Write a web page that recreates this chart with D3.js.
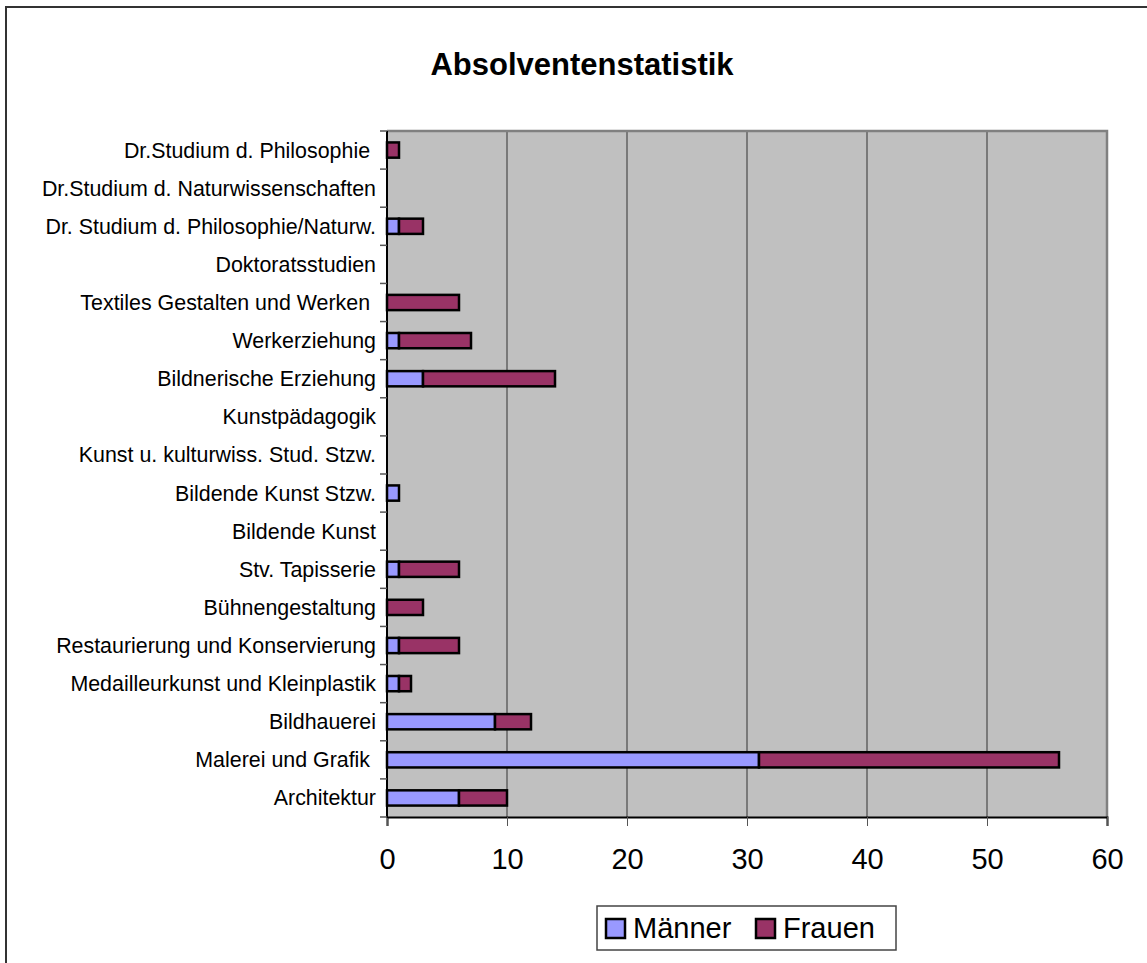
<!DOCTYPE html>
<html>
<head>
<meta charset="utf-8">
<script src="https://cdn.jsdelivr.net/npm/d3@7"></script>
<style>
  body { margin: 0; background: #fff; }
  svg text { font-family: "Liberation Sans", Arial, sans-serif; }
</style>
</head>
<body>
<div class="chart"></div>
<script>
// categories, bottom to top as in the original sheet
var categories = [
  "Architektur",
  "Malerei und Grafik ",
  "Bildhauerei",
  "Medailleurkunst und Kleinplastik",
  "Restaurierung und Konservierung",
  "Bühnengestaltung",
  "Stv. Tapisserie",
  "Bildende Kunst",
  "Bildende Kunst Stzw.",
  "Kunst u. kulturwiss. Stud. Stzw.",
  "Kunstpädagogik",
  "Bildnerische Erziehung",
  "Werkerziehung",
  "Textiles Gestalten und Werken ",
  "Doktoratsstudien",
  "Dr. Studium d. Philosophie/Naturw.",
  "Dr.Studium d. Naturwissenschaften",
  "Dr.Studium d. Philosophie "
];
var maenner = [6, 31, 9, 1, 1, 0, 1, 0, 1, 0, 0, 3, 1, 0, 0, 1, 0, 0];
var frauen  = [4, 25, 3, 1, 5, 3, 5, 0, 0, 0, 0, 11, 6, 6, 0, 2, 0, 1];
var seriesNames = ["Männer", "Frauen"];
var seriesColors = ["#9999FF", "#993366"];
var xTicks = [0, 10, 20, 30, 40, 50, 60];

var svg_w = 1147, svg_h = 963;
var plot = {left: 387, top: 131, right: 1107, bottom: 817};

var svg = d3.select("div.chart").append("svg")
  .attr("width", svg_w)
  .attr("height", svg_h);

// outer chart frame
svg.append("rect")
  .attr("x", 6).attr("y", 7)
  .attr("width", 1160).attr("height", 980)
  .attr("fill", "#fff")
  .attr("stroke", "#333")
  .attr("stroke-width", 2);

svg.append("text")
  .attr("x", 582).attr("y", 75)
  .attr("text-anchor", "middle")
  .attr("font-size", "31px")
  .attr("font-weight", "bold")
  .text("Absolventenstatistik");

var x = d3.scaleLinear()
  .domain([0, 60])
  .range([plot.left, plot.right]);

var y = d3.scaleBand()
  .domain(categories.slice().reverse())
  .range([plot.top, plot.bottom])
  .paddingInner(0.6)
  .paddingOuter(0.3);

// plot background
svg.append("rect")
  .attr("x", plot.left).attr("y", plot.top)
  .attr("width", plot.right - plot.left)
  .attr("height", plot.bottom - plot.top)
  .attr("fill", "#C0C0C0");

// vertical gridlines
svg.append("g")
  .selectAll("line")
  .data(xTicks.slice(1, -1))
  .enter()
  .append("line")
  .attr("x1", function(d) { return x(d); })
  .attr("x2", function(d) { return x(d); })
  .attr("y1", plot.top)
  .attr("y2", plot.bottom)
  .attr("stroke", "#333")
  .attr("stroke-width", 1);

// plot border top and right
svg.append("path")
  .attr("d", "M" + plot.left + "," + plot.top + "H" + plot.right + "V" + plot.bottom)
  .attr("fill", "none")
  .attr("stroke", "#808080")
  .attr("stroke-width", 2.5);

// stacked bars
var stack = categories.map(function(c, i) {
  return [
    {cat: c, x0: 0, x1: maenner[i], s: 0},
    {cat: c, x0: maenner[i], x1: maenner[i] + frauen[i], s: 1}
  ];
});
var segs = [].concat.apply([], stack).filter(function(d) { return d.x1 > d.x0; });

svg.append("g")
  .selectAll("rect")
  .data(segs)
  .enter()
  .append("rect")
  .attr("x", function(d) { return x(d.x0); })
  .attr("y", function(d) { return y(d.cat); })
  .attr("width", function(d) { return x(d.x1) - x(d.x0); })
  .attr("height", y.bandwidth())
  .attr("fill", function(d) { return seriesColors[d.s]; })
  .attr("stroke", "#000")
  .attr("stroke-width", 2.5);

// x axis
var xAxis = d3.axisBottom(x)
  .tickValues(xTicks)
  .tickSize(9)
  .tickPadding(22);
var gx = svg.append("g")
  .attr("transform", "translate(0," + plot.bottom + ")")
  .call(xAxis);
gx.select(".domain").attr("stroke", "#000").attr("stroke-width", 2);
gx.selectAll(".tick line").attr("stroke", "#555");
gx.selectAll("text")
  .attr("font-size", "29px")
  .attr("fill", "#000")
  .style("font-family", "'Liberation Sans', Arial, sans-serif");

// y axis: ticks between categories, labels at band centres
var step = y.step();
var gy = svg.append("g");
gy.append("line")
  .attr("x1", plot.left).attr("x2", plot.left)
  .attr("y1", plot.top).attr("y2", plot.bottom + 1)
  .attr("stroke", "#000").attr("stroke-width", 2);
gy.selectAll("line.tick")
  .data(d3.range(categories.length + 1))
  .enter()
  .append("line")
  .attr("class", "tick")
  .attr("x1", plot.left - 7).attr("x2", plot.left)
  .attr("y1", function(i) { return plot.top + i * step; })
  .attr("y2", function(i) { return plot.top + i * step; })
  .attr("stroke", "#555").attr("stroke-width", 1.5);
gy.selectAll("text")
  .data(categories)
  .enter()
  .append("text")
  .attr("x", 376)
  .attr("y", function(d) { return y(d) + y.bandwidth() / 2; })
  .attr("dy", "0.35em")
  .attr("text-anchor", "end")
  .attr("font-size", "21.4px")
  .style("white-space", "pre")
  .text(function(d) { return d; });

// legend
var lg = svg.append("g");
lg.append("rect")
  .attr("x", 597).attr("y", 906)
  .attr("width", 299).attr("height", 44)
  .attr("fill", "#fff")
  .attr("stroke", "#444")
  .attr("stroke-width", 1.5);
var legendX = [606, 756];
var items = lg.selectAll("g.item")
  .data(seriesNames)
  .enter()
  .append("g")
  .attr("class", "item")
  .attr("transform", function(d, i) { return "translate(" + legendX[i] + ",919)"; });
items.append("rect")
  .attr("width", 19).attr("height", 19)
  .attr("fill", function(d, i) { return seriesColors[i]; })
  .attr("stroke", "#000")
  .attr("stroke-width", 2.5);
items.append("text")
  .attr("x", 27).attr("y", 19)
  .attr("font-size", "29px")
  .text(function(d) { return d; });
</script>
</body>
</html>
